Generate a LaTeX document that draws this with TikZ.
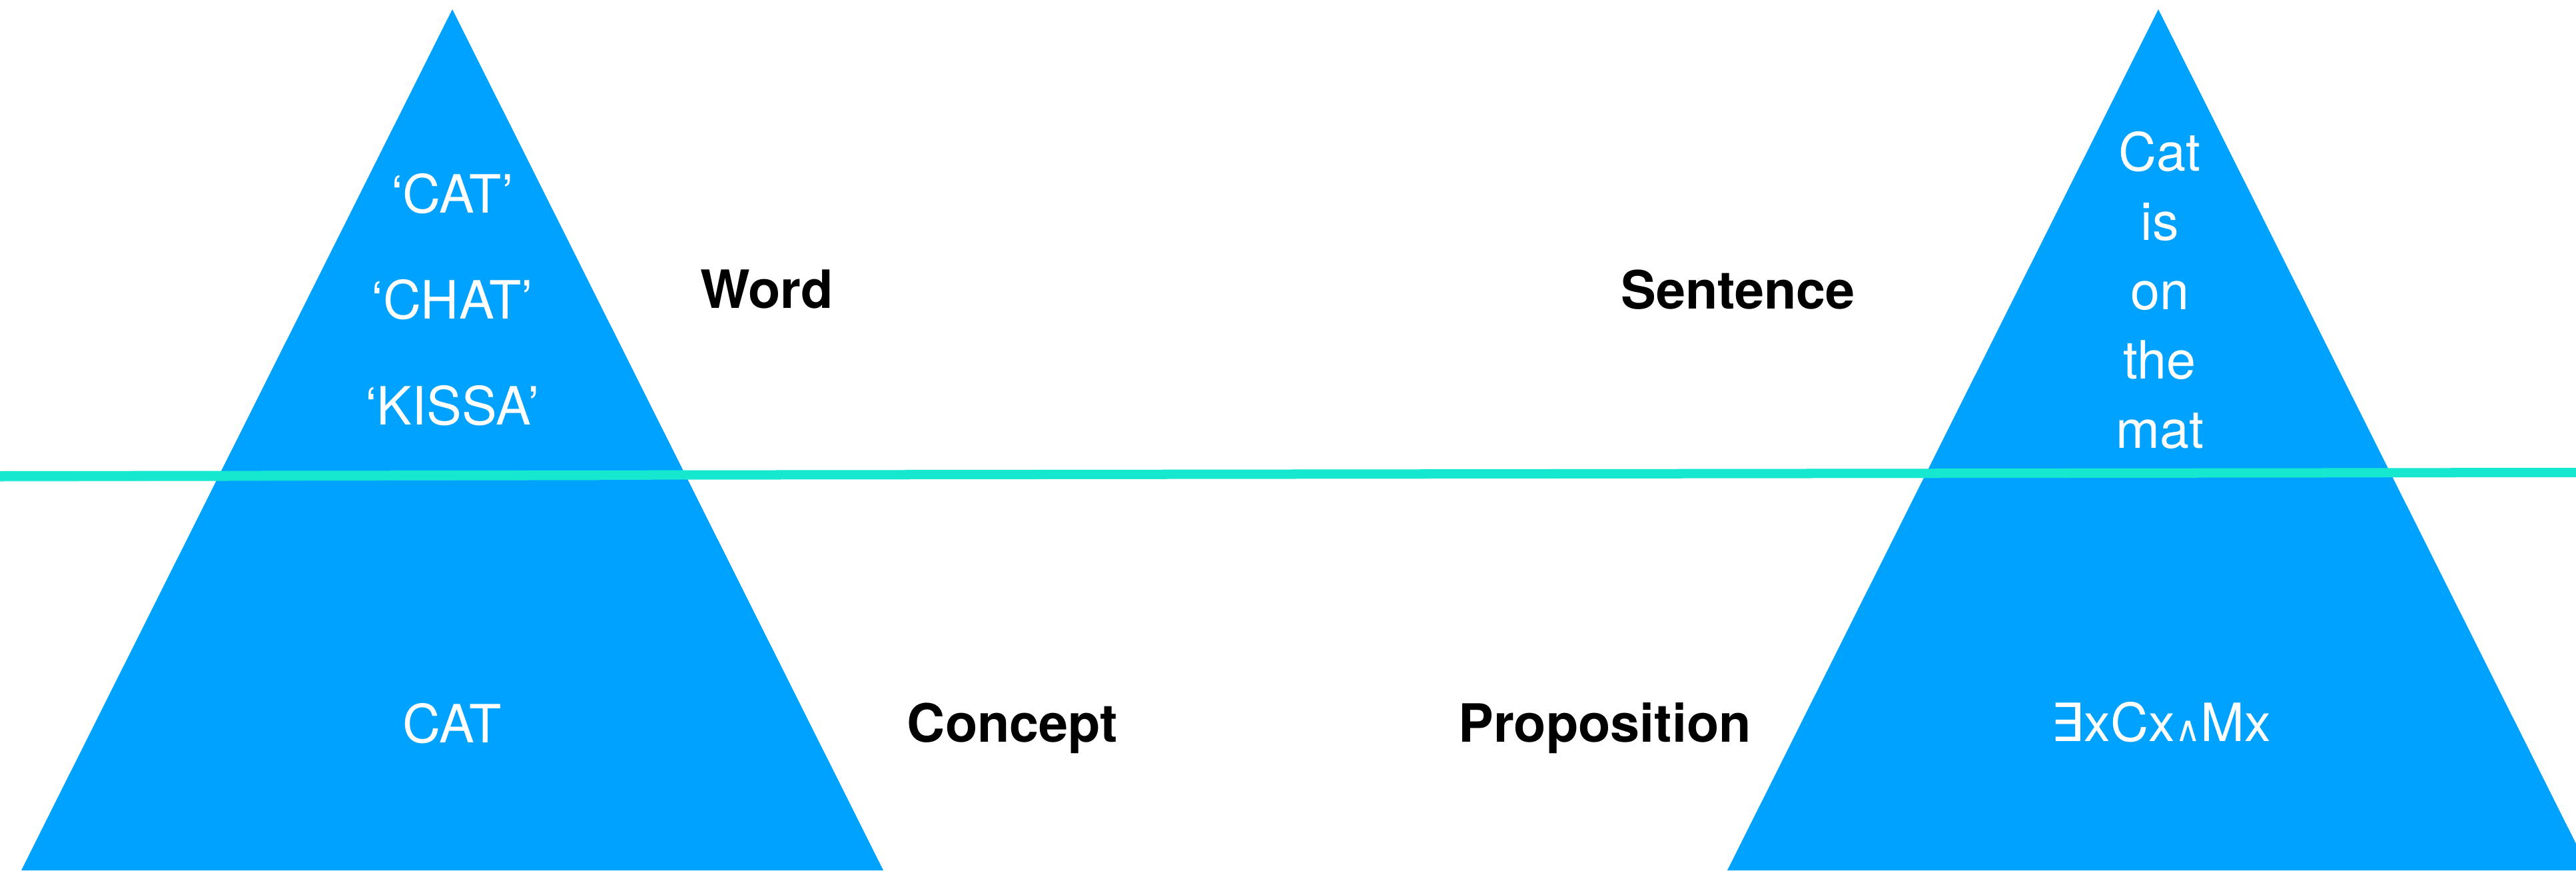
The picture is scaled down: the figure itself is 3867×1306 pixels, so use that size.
\documentclass[tikz,border=0pt]{standalone}
\usepackage{fontspec}
\setmainfont{TeX Gyre Heros}
\newfontfamily\symfont{DejaVu Sans}
\usepackage{xcolor}
\usepackage{tikz}
\usetikzlibrary{positioning}

\definecolor{berg}{HTML}{00A2FF}
\definecolor{water}{HTML}{16E7CF}

\tikzset{
    inside/.style={white,anchor=base,inner sep=0pt,font=\fontsize{22.5}{27}\selectfont},
    level/.style={black,anchor=base,inner sep=0pt,font=\fontsize{22.5}{27}\selectfont\bfseries}
}

\begin{document}
\begin{tikzpicture}
            [
                x=0.01cm,y=-0.01cm
            ]
            
            \useasboundingbox (0,0) rectangle (3867,1306);
            \clip (0,0) rectangle (3867,1306);
            
            \fill[berg] (679,14) -- (1326,1306) -- (32,1306) -- cycle;
            \fill[berg] (3240,14) -- (3887,1306) -- (2593,1306) -- cycle;
            
            \foreach \w [count=\i] in {‘CAT’,‘CHAT’,‘KISSA’}
                \node[inside] (word\i) at (679,{160+159*\i}) {\w};
            \node[inside] (concept) at (679,1114) {CAT};
            
            \foreach \w [count=\i] in {Cat,is,on,the,mat}
                \node[inside] (sent\i) at (3242,{152+104*\i}) {\w};
            \node[inside] (prop) at (3244,1112)
                {{\symfont ∃}xCx{\symfont\fontsize{15}{18}\selectfont ∧}Mx};
            
            \node[level] (wordlab) at (1151,462) {Word};
            \node[level] (sentlab) at (2609,463) {Sentence};
            \node[level] (conclab) at (1520,1113) {Concept};
            \node[level] (proplab) at (2409,1113) {Proposition};
            
            \draw[water,line width=0.14cm] (0,714) -- (3867,709);
            \draw[water,line width=0.05cm,opacity=.8] (0,720) -- (900,718);
            \draw[water,line width=0.04cm,opacity=.7] (2900,706) -- (3867,712);
        \end{tikzpicture}
\end{document}
